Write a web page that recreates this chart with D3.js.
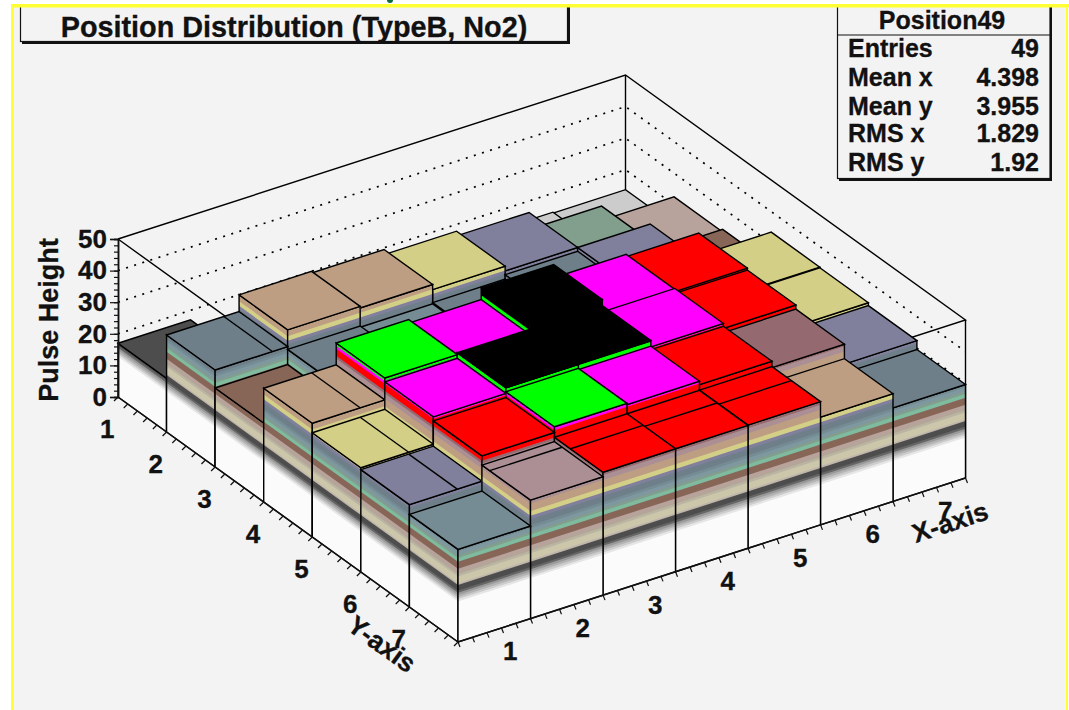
<!DOCTYPE html>
<html>
<head>
<meta charset="utf-8">
<script src="https://cdn.jsdelivr.net/npm/d3@7"></script>
<style>
  html, body { margin: 0; padding: 0; background: #fff; }
  svg { display: block; }
  text { font-family: "Liberation Sans", Arial, sans-serif; font-weight: bold; fill: #111; stroke: #111; stroke-width: 0.3px; }
</style>
</head>
<body>
<svg id="chart" width="1069" height="710"></svg>
<script>
const xBins = [1, 2, 3, 4, 5, 6, 7];
const yBins = [1, 2, 3, 4, 5, 6, 7];

// pulse height per x bin, one list per y bin
const yBin1 = [17, 12, 12, 13, 13, 14, 13.7];
const yBin2 = [30.7, 36, 35.5, 33.9, 32.4, 27, 22.5];
const yBin3 = [25, 29.8, 29.4, 29.8, 31.2, 32.4, 23.3];
const yBin4 = [36, 42.9, 41.8, 45.5, 41.3, 40.6, 33.5];
const yBin5 = [33, 41.7, 43.5, 43.6, 41.6, 40, 33.3];
const yBin6 = [32.4, 40.4, 42.2, 41.8, 40.7, 38.7, 32.4];
const yBin7 = [29.3, 37.5, 38.9, 38.9, 39, 34.1, 29.6];
const heights = [yBin1, yBin2, yBin3, yBin4, yBin5, yBin6, yBin7];

// colour levels of the lego, read from the side walls
const levelBreaks = [12.8, 13.5, 14.2, 14.9, 15.6, 16.3, 18, 18.6, 20.7, 21.5, 22.1, 23.2, 25.4,
  26.6, 27.4, 28.6, 29.5, 31.4, 32.5, 34, 36.4, 38, 38.85, 41.1, 42, 43.2];
const levelColors = ["#fbfbfb", "#e6e6e6", "#cccccc", "#b3b3b3", "#999999", "#666666", "#4d4d4d",
  "#c0b6ac", "#ccc7ab", "#bab5a3", "#b3a696", "#b8a39c", "#876657", "#7fbc9f", "#829e8c", "#7f98a0",
  "#758c94", "#6e7f8a", "#80809c", "#d4cf87", "#bd9e82", "#ab8f94", "#94696f", "#ff0000", "#ff00ff",
  "#00ff00", "#000000"];

// extra lines ROOT left on some tops: [x bin, y bin, direction, fraction]
const topLines = [[0, 1, "x", 0.79], [0, 3, "x", 0.66], [0, 4, "x", 0.66], [0, 5, "x", 0.66],
  [1, 6, "y", 0.16], [2, 6, "y", 0.33], [3, 6, "y", 0.36], [4, 6, "y", 0.4]];

const zMajor = [0, 10, 20, 30, 40, 50];
const zGrid = [10, 20, 30, 40];
const statNames = ["Entries", "Mean x", "Mean y", "RMS x", "RMS y"];
const statValues = ["49", "4.398", "3.955", "1.829", "1.92"];

const svg = d3.select("#chart");

const xFrac = d3.scaleLinear().domain([0.5, 7.5]).range([0, 1]);
const yFrac = d3.scaleLinear().domain([0.5, 7.5]).range([1, 0]);
const zPx = d3.scaleLinear().domain([0, 50]).range([0, 158]);
const color = d3.scaleThreshold().domain(levelBreaks).range(levelColors);

const front = [458, 642];
const xEdge = [507.5, -164];
const yEdge = [-340, -245];

function project(x, y, z) {
  return [
    front[0] + xFrac(x) * xEdge[0] + yFrac(y) * yEdge[0],
    front[1] + xFrac(x) * xEdge[1] + yFrac(y) * yEdge[1] - zPx(z)
  ];
}

function poly(points) {
  return d3.line()(points) + "Z";
}

// panel
svg.append("rect").attr("x", 12).attr("y", 5).attr("width", 1055).attr("height", 705).attr("fill", "#f3f3f3");

// back walls of the box
const box = svg.append("g").attr("fill", "none").attr("stroke", "#000");
box.selectAll("path.grid")
  .data(zGrid)
  .enter().append("path")
  .attr("class", "grid")
  .attr("stroke-width", 1.7)
  .attr("stroke-dasharray", "2 6.5")
  .attr("d", function(z) { return d3.line()([project(0.5, 0.5, z), project(7.5, 0.5, z), project(7.5, 7.5, z)]); });

box.append("path")
  .attr("stroke-width", 1.4)
  .attr("d", d3.line()([project(0.5, 0.5, 50), project(7.5, 0.5, 50), project(7.5, 7.5, 50), project(0.5, 7.5, 50), project(0.5, 0.5, 50)]));
box.append("path")
  .attr("stroke-width", 1.4)
  .attr("d", d3.line()([project(7.5, 0.5, 0), project(7.5, 0.5, 50)]));
box.append("path")
  .attr("stroke-width", 1.4)
  .attr("d", d3.line()([project(7.5, 7.5, 0), project(7.5, 7.5, 50)]));

const bars = svg.append("g");

function drawWall(a, b, top) {
  // a and b are [x, y] ends of the wall, bands are painted bottom up and overlap
  const wall = function(lo, hi) {
    return poly([project(a[0], a[1], lo), project(b[0], b[1], lo), project(b[0], b[1], hi), project(a[0], a[1], hi)]);
  };
  const starts = [0].concat(levelBreaks.filter(function(d) { return d < top; }));
  bars.selectAll(null)
    .data(starts)
    .enter().append("path")
    .attr("d", function(lo) { return wall(lo, top); })
    .attr("fill", function(lo) { return color(lo + 0.001); });
  bars.append("path")
    .attr("d", wall(0, top))
    .attr("fill", "none")
    .attr("stroke", "#000")
    .attr("stroke-width", 1.4);
}

// far bins first
yBins.forEach(function(yb, j) {
  xBins.slice().reverse().forEach(function(xb) {
    const i = xb - 1;
    const z = heights[j][i];
    const x0 = xb - 0.5, x1 = xb + 0.5, y0 = yb - 0.5, y1 = yb + 0.5;

    drawWall([x0, y0], [x0, y1], z);
    drawWall([x0, y1], [x1, y1], z);

    bars.append("path")
      .attr("d", poly([project(x0, y0, z), project(x1, y0, z), project(x1, y1, z), project(x0, y1, z)]))
      .attr("fill", color(z))
      .attr("stroke", "#000")
      .attr("stroke-width", 1.4);

    topLines.filter(function(d) { return d[0] == i && d[1] == j; }).forEach(function(d) {
      const ends = d[2] == "x"
        ? [project(x0 + d[3], y0, z), project(x0 + d[3], y1, z)]
        : [project(x0, y0 + d[3], z), project(x1, y0 + d[3], z)];
      bars.append("path").attr("d", d3.line()(ends)).attr("stroke", "#000").attr("stroke-width", 1.4);
    });
  });
});

// floor axes
const axes = svg.append("g").attr("stroke", "#111").attr("fill", "none");
axes.append("path")
  .attr("stroke-width", 1.5)
  .attr("d", d3.line()([project(0.5, 0.5, 0), project(0.5, 7.5, 0), project(7.5, 7.5, 0)]));

const minorTicks = d3.range(0.5, 7.55, 0.2);
const ticks = axes.append("g").attr("stroke-width", 1.2);

ticks.selectAll("path.xt")
  .data(minorTicks)
  .enter().append("path")
  .attr("class", "xt")
  .attr("d", function(v) {
    const p = project(v, 7.5, 0);
    const big = Math.abs(v - Math.round(v)) < 0.01;
    return d3.line()([p, [p[0] + (big ? 5 : 2), p[1] + (big ? 11 : 5)]]);
  });
ticks.selectAll("path.yt")
  .data(minorTicks)
  .enter().append("path")
  .attr("class", "yt")
  .attr("d", function(v) {
    const p = project(0.5, v, 0);
    const big = Math.abs(v - Math.round(v)) < 0.01;
    return d3.line()([p, [p[0] - (big ? 11 : 4), p[1] + (big ? 9 : 4)]]);
  });

// z axis, real d3 axis with its own scale
const zAxisScale = d3.scaleLinear().domain([0, 50]).range([project(0.5, 0.5, 0)[1], project(0.5, 0.5, 50)[1]]);
const zx = project(0.5, 0.5, 0)[0];

const zMinor = svg.append("g")
  .attr("transform", "translate(" + zx + ",0)")
  .call(d3.axisLeft(zAxisScale).tickValues(d3.range(0, 51, 2)).tickSize(4).tickFormat(""));
const zAxis = svg.append("g")
  .attr("transform", "translate(" + zx + ",0)")
  .call(d3.axisLeft(zAxisScale).tickValues(zMajor).tickSize(8).tickPadding(3));
zAxis.selectAll("text").style("font-size", "26px").style("font-family", "Liberation Sans").style("font-weight", "bold");
svg.selectAll(".domain").attr("stroke", "#111").attr("stroke-width", 1.5);
svg.selectAll(".tick line").attr("stroke", "#111").attr("stroke-width", 1.2);

// axis labels
function label(t, x, y, rotate, size) {
  return svg.append("text")
    .attr("transform", "translate(" + x + "," + y + ") rotate(" + (rotate || 0) + ")")
    .attr("text-anchor", "middle")
    .attr("dy", "0.35em")
    .style("font-size", (size || 26) + "px")
    .text(t);
}

xBins.forEach(function(v) {
  const p = project(v, 7.5, 0);
  label(v, p[0] + 16, p[1] + 21);
});
yBins.forEach(function(v) {
  const p = project(0.5, v, 0);
  label(v, p[0] - 35, p[1] + 14);
});
label("X-axis", 950, 522, -18, 26.5);
label("Y-axis", 382, 644, 36, 26.5);
label("Pulse Height", 49, 320, -90, 27);

// title box
svg.append("rect").attr("x", 22).attr("y", 0).attr("width", 548).attr("height", 44).attr("fill", "#111");
svg.append("rect").attr("x", 20.5).attr("y", 0).attr("width", 547).attr("height", 41.5)
  .attr("fill", "#f3f3f3").attr("stroke", "#111").attr("stroke-width", 1.2);
label("Position Distribution (TypeB, No2)", 294, 27, 0, 28.8);

// stats box
svg.append("rect").attr("x", 839).attr("y", 0).attr("width", 213).attr("height", 181).attr("fill", "#111");
svg.append("rect").attr("x", 837.5).attr("y", 0).attr("width", 212.5).attr("height", 178.5)
  .attr("fill", "#f3f3f3").attr("stroke", "#111").attr("stroke-width", 1.2);
svg.append("line").attr("x1", 837.5).attr("x2", 1050).attr("y1", 35).attr("y2", 35)
  .attr("stroke", "#111").attr("stroke-width", 1.2);
label("Position49", 942, 20, 0, 25);

const statY = [48, 77, 106, 133, 162];
statNames.forEach(function(name, k) {
  svg.append("text").attr("x", 848).attr("y", statY[k]).attr("dy", "0.35em")
    .style("font-size", "25px").text(name);
  svg.append("text").attr("x", 1039).attr("y", statY[k]).attr("dy", "0.35em")
    .attr("text-anchor", "end").style("font-size", "25px").text(statValues[k]);
});

// yellow window frame and what is left of the text above it
svg.append("rect").attr("x", 0).attr("y", 0).attr("width", 1069).attr("height", 4).attr("fill", "#fff");
svg.append("rect").attr("x", 11).attr("y", 4).attr("width", 1058).attr("height", 3.5).attr("fill", "#ffff33");
svg.append("rect").attr("x", 11).attr("y", 4).attr("width", 3).attr("height", 706).attr("fill", "#ffff33");
svg.append("rect").attr("x", 1066).attr("y", 4).attr("width", 2).attr("height", 706).attr("fill", "#ffff33");
svg.append("circle").attr("cx", 390).attr("cy", 0).attr("r", 3).attr("fill", "#0b6b3a");
</script>
</body>
</html>
